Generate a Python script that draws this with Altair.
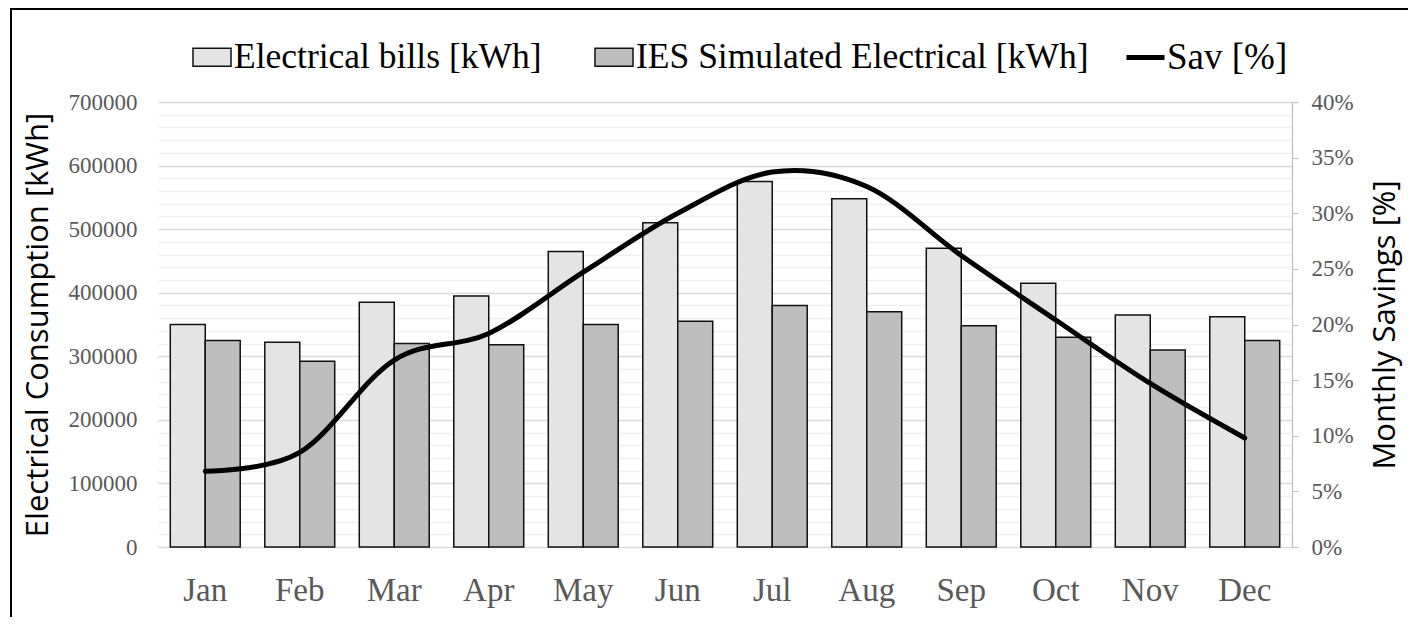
import altair as alt
import pandas as pd

months = ["Jan", "Feb", "Mar", "Apr", "May", "Jun", "Jul", "Aug", "Sep", "Oct", "Nov", "Dec"]
bills = [350000, 322000, 385000, 395000, 465000, 510000, 575000, 548000, 470000, 415000, 365000, 362000]
ies = [325000, 292000, 320000, 318000, 350000, 355000, 380000, 370000, 348000, 330000, 310000, 325000]
sav = [6.8, 8.5, 16.8, 19.2, 24.7, 30.0, 33.7, 32.4, 26.2, 20.4, 14.7, 9.8]

series_names = ["Electrical bills [kWh]", "IES Simulated Electrical [kWh]"]
line_name = "Sav [%]"
left_ticks = list(range(0, 700001, 20000))
right_ticks = list(range(0, 41, 5))

bar_df = pd.DataFrame({
    "month": months * 2,
    "series": [series_names[0]] * len(months) + [series_names[1]] * len(months),
    "value": bills + ies,
})
line_df = pd.DataFrame({"month": months, "sav": sav, "series": [line_name] * len(months)})

W, H = 1134, 445
SERIF = "Liberation Serif"
SANS = "Open Sans"

x_enc = alt.X(
    "month:N", sort=months,
    scale=alt.Scale(paddingInner=0.26, paddingOuter=0.13),
    axis=alt.Axis(title=None, labelAngle=0, labelFont=SERIF, labelFontSize=33,
                  labelColor="#595959", labelPadding=27, ticks=False, tickSize=0,
                  domain=False, grid=False),
)

bars = alt.Chart(bar_df).mark_bar(stroke="#111111", strokeWidth=1.5).encode(
    x=x_enc,
    xOffset=alt.XOffset("series:N", sort=series_names),
    y=alt.Y(
        "value:Q",
        scale=alt.Scale(domain=[0, 700000], nice=False),
        axis=alt.Axis(
            values=left_ticks, format="d",
            labelExpr="datum.value % 100000 === 0 ? datum.label : ''",
            labelOverlap=False, labelFont=SERIF, labelFontSize=23, labelColor="#595959",
            labelPadding=21, ticks=False, tickSize=0, domain=False,
            grid=True,
            gridColor={"condition": {"test": "datum.value % 100000 === 0", "value": "#d9d9d9"}, "value": "#f0f0f0"},
            gridWidth={"condition": {"test": "datum.value % 100000 === 0", "value": 1.6}, "value": 1.3},
            title="Electrical Consumption [kWh]", titleFont=SANS, titleFontSize=31,
            titleFontWeight="normal", titleColor="#000000", titleAngle=270,
            titleX=-120, titleY=H / 2, titleBaseline="middle", titleAlign="center",
        ),
    ),
    fill=alt.Fill(
        "series:N", sort=series_names,
        scale=alt.Scale(domain=series_names, range=["#e4e4e4", "#bebebe"]),
        legend=alt.Legend(
            title=None, orient="none", legendX=34, legendY=-65, direction="horizontal",
            symbolType="M-1,-0.47H1V0.47H-1Z", symbolSize=1444, symbolStrokeColor="#111111",
            symbolStrokeWidth=1.5, symbolOpacity=1, labelFont=SERIF, labelFontSize=35.5,
            labelColor="#000000", labelOffset=2, columnPadding=50, labelLimit=800,
        ),
    ),
)

line = alt.Chart(line_df).mark_line(strokeWidth=5, interpolate="cardinal", strokeCap="round").encode(
    x=alt.X("month:N", sort=months),
    y=alt.Y(
        "sav:Q",
        scale=alt.Scale(domain=[0, 40], nice=False),
        axis=alt.Axis(
            orient="right", values=right_ticks, labelExpr="datum.value + '%'",
            labelFont=SERIF, labelFontSize=23, labelColor="#595959", labelPadding=13,
            ticks=True, tickSize=6, tickColor="#bfbfbf", domain=True, domainColor="#bfbfbf",
            domainWidth=1.2, grid=False,
            title="Monthly Savings  [%]", titleFont=SANS, titleFontSize=31,
            titleFontWeight="normal", titleColor="#000000", titleAngle=270,
            titleX=93, titleY=H / 2, titleBaseline="middle", titleAlign="center",
        ),
    ),
    stroke=alt.Stroke(
        "series:N",
        scale=alt.Scale(domain=[line_name], range=["#000000"]),
        legend=alt.Legend(
            title=None, orient="none", legendX=966, legendY=-66, direction="horizontal",
            symbolType="stroke", symbolSize=1444, symbolStrokeWidth=5,
            labelFont=SERIF, labelFontSize=37, labelColor="#000000", labelOffset=0,
            labelLimit=400,
        ),
    ),
)

border = alt.Chart(alt.Data(values=[{"b": 1}])).mark_rect(
    filled=False, stroke="#000000", strokeWidth=2
).encode(
    x=alt.value(-147), x2=alt.value(1262), y=alt.value(-93), y2=alt.value(540)
)

chart = alt.layer(bars, line, border).resolve_scale(y="independent").properties(
    width=W, height=H,
    padding={"left": 150, "top": 94, "right": 116, "bottom": 70},
    autosize=alt.AutoSizeParams(type="none"),
).configure_view(stroke=None)

chart.save("out.html", embed_options={"renderer": "svg", "actions": False})
